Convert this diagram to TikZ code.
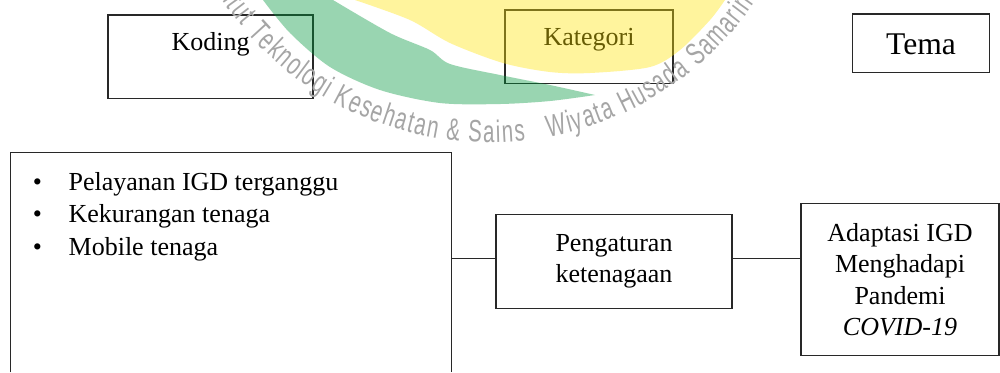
\documentclass[tikz,border=0pt]{standalone}
\usepackage{fontspec}
\setmainfont{Liberation Serif}
\newfontfamily\wmfont[FakeStretch=0.66]{Liberation Sans}
\usetikzlibrary{decorations.text}
\definecolor{wmyellow}{RGB}{255,228,10}
\definecolor{wmgreen}{RGB}{0,150,60}
\definecolor{wmgray}{RGB}{165,165,165}
\definecolor{edge}{RGB}{40,40,40}
\tikzset{
  box/.style={draw=edge, line width=0.6pt, inner sep=0pt, outer sep=0pt},
  conn/.style={draw=edge, line width=0.6pt},
  lbl/.style={font=\fontsize{13}{15.75}\selectfont},
  txt/.style={font=\fontsize{13}{15.75}\selectfont, align=center},
  bigtxt/.style={font=\fontsize{15.8}{19}\selectfont},
  bulletitem/.style={lbl, anchor=base west, inner sep=0pt},
  wm/.style={fill opacity=0.4},
}
\begin{document}
\begin{tikzpicture}[x=0.5pt,y=-0.5pt]
\fill[white] (0,0) rectangle (1000,372);
\useasboundingbox (0,0) rectangle (1000,372);

% header boxes
\node[box, lbl, minimum width=102.5pt, text height=17.85pt, text depth=23.8pt] (kod) at (210.5,56.65) {Koding};
\node[box, lbl, minimum width=84pt, text height=17.5pt, text depth=19.15pt] (kat) at (589,46.65) {Kategori};
\node[box, bigtxt, minimum width=68.3pt, text height=20.15pt, text depth=9.2pt] (tema) at (921,43.35) {Tema};

% left box (open at the bottom of the picture)
\node[minimum width=220pt, minimum height=109.5pt, inner sep=0pt] (lb) at (231,262.5) {};
\draw[conn] (lb.south west) -- (lb.north west) -- (lb.north east) -- (lb.south east);
\node[bulletitem] (b1) at (32.5,190) {\makebox[17.9pt][l]{\textbullet}Pelayanan IGD terganggu};
\node[bulletitem] (b2) at (32.5,222.5) {\makebox[17.9pt][l]{\textbullet}Kekurangan tenaga};
\node[bulletitem] (b3) at (32.5,255) {\makebox[17.9pt][l]{\textbullet}Mobile tenaga};

% category and theme
\node[box, txt, minimum width=118pt, minimum height=46.9pt] (pg) at (614,261.4) {Pengaturan\\ketenagaan};
\node[box, txt, minimum width=99pt, minimum height=76pt] (ad) at (900,279.7) {Adaptasi IGD\\Menghadapi\\Pandemi\\\textit{COVID-19}};

\draw[conn] ([yshift=1.6pt]pg.west -| lb.east) -- ([yshift=1.6pt]pg.west);
\draw[conn] ([yshift=1.4pt]pg.east) -- ([yshift=1.4pt]pg.east -| ad.west);

% watermark
\begin{scope}[wm]
\fill[wmgreen] plot[smooth] coordinates {(263,0) (290,33) (330,67) (380,90) (440,103) (500,104) (550,101) (595,95)}
  -- plot[smooth] coordinates {(595,95) (550,85) (500,75) (450,64) (430,50) (390,33) (333,0)} -- cycle;
\fill[wmyellow] plot[smooth] coordinates {(355,0) (410,20) (450,43) (503,63) (550,72) (590,73) (650,67) (680,50) (710,20) (725,0)} -- cycle;
\end{scope}
\path[decorate, decoration={text along path, text align={fit to path},
  text={|\wmfont\fontsize{15.5}{18}\selectfont\color{wmgray}|Institut Teknologi Kesehatan {\&} Sains{\ }{\ }{\ }Wiyata Husada Samarinda}}]
  (202.5,-33.3) arc[start angle=153, end angle=30, radius=322];
\end{tikzpicture}
\end{document}
